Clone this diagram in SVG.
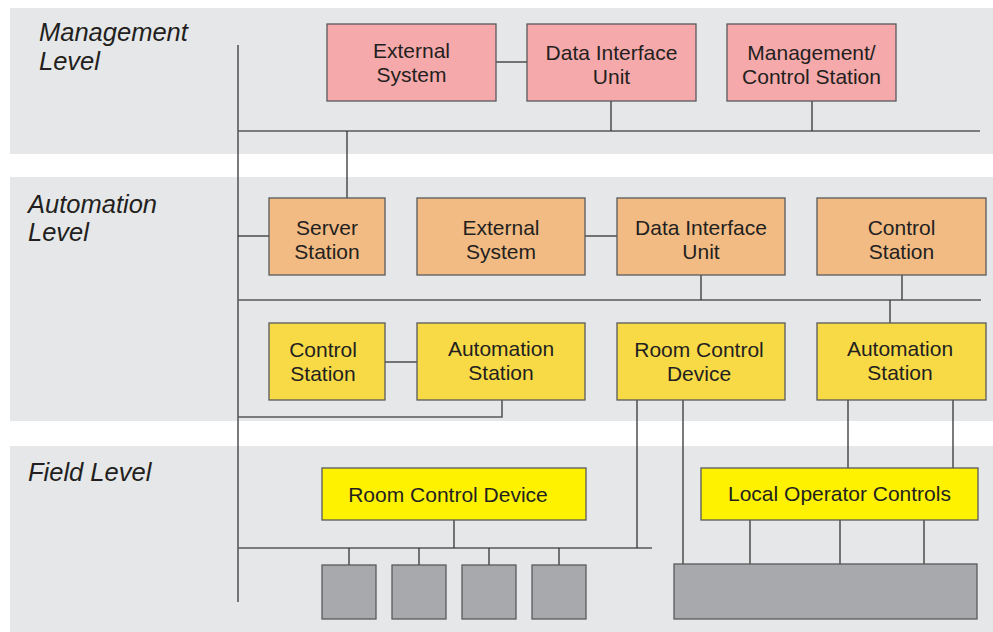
<svg xmlns="http://www.w3.org/2000/svg" width="993" height="632" viewBox="0 0 993 632">
<style>
.band{fill:#e6e7e8}
.lvl{font-family:"Liberation Sans",Arial,sans-serif;font-style:italic;font-size:25.5px;fill:#231f20}
.t{font-family:"Liberation Sans",Arial,sans-serif;font-size:21px;fill:#231f20;text-anchor:middle}
.box{stroke:#58595b;stroke-width:1.3}
.pink{fill:#f6a9ab}
.orange{fill:#f2bb84}
.yel{fill:#f8da47}
.fy{fill:#fff200}
.gray{fill:#a7a9ac}
.ln{stroke:#333;stroke-width:1.3;fill:none}
.bus{stroke:#58595b;stroke-width:1.6;fill:none}
</style>
<rect width="993" height="632" fill="#fff"/>
<rect class="band" x="10" y="8" width="983" height="146"/>
<rect class="band" x="10" y="177" width="983" height="244"/>
<rect class="band" x="10" y="446" width="983" height="186"/>
<text class="lvl" x="39" y="41">Management</text>
<text class="lvl" x="39" y="70">Level</text>
<text class="lvl" x="28" y="213">Automation</text>
<text class="lvl" x="28" y="241">Level</text>
<text class="lvl" x="28" y="481">Field Level</text>
<g id="connectors">
<path class="bus" d="M238 45V602"/>
<path class="bus" d="M238 131H980"/>
<path class="bus" d="M238 300H981"/>
<path class="bus" d="M238 417H502V400"/>
<path class="bus" d="M238 548H652"/>
<path class="ln" d="M496 62H527"/>
<path class="ln" d="M611 101V131"/>
<path class="ln" d="M812 101V131"/>
<path class="ln" d="M347 131V198"/>
<path class="ln" d="M238 236H269"/>
<path class="ln" d="M585 236H617"/>
<path class="ln" d="M701 275V300"/>
<path class="ln" d="M902 275V300"/>
<path class="ln" d="M890 300V323"/>
<path class="ln" d="M385 362H417"/>
<path class="ln" d="M637 400V548"/>
<path class="ln" d="M683 400V564"/>
<path class="ln" d="M848 400V468"/>
<path class="ln" d="M953 400V468"/>
<path class="ln" d="M454 520V548"/>
<path class="ln" d="M349 548V565"/>
<path class="ln" d="M419 548V565"/>
<path class="ln" d="M489 548V565"/>
<path class="ln" d="M559 548V565"/>
<path class="ln" d="M750 520V564"/>
<path class="ln" d="M840 520V564"/>
<path class="ln" d="M924 520V564"/>
</g>
<g id="mgmt-external"><rect class="box pink" x="327" y="24" width="169" height="77"/><text class="t" x="411.5" y="58">External</text><text class="t" x="411.5" y="82">System</text></g>
<g id="mgmt-diu"><rect class="box pink" x="527" y="24" width="169" height="77"/><text class="t" x="611.5" y="60">Data Interface</text><text class="t" x="611.5" y="84">Unit</text></g>
<g id="mgmt-station"><rect class="box pink" x="727" y="24" width="169" height="77"/><text class="t" x="811.5" y="60">Management/</text><text class="t" x="811.5" y="84">Control Station</text></g>
<g id="auto-server"><rect class="box orange" x="269" y="198" width="116" height="77"/><text class="t" x="327" y="235">Server</text><text class="t" x="327" y="259">Station</text></g>
<g id="auto-external"><rect class="box orange" x="417" y="198" width="168" height="77"/><text class="t" x="501" y="234.5">External</text><text class="t" x="501" y="258.5">System</text></g>
<g id="auto-diu"><rect class="box orange" x="617" y="198" width="168" height="77"/><text class="t" x="701" y="234.5">Data Interface</text><text class="t" x="701" y="258.5">Unit</text></g>
<g id="auto-control"><rect class="box orange" x="817" y="198" width="169" height="77"/><text class="t" x="901.5" y="234.5">Control</text><text class="t" x="901.5" y="258.5">Station</text></g>
<g id="ctrl-station"><rect class="box yel" x="269" y="323" width="116" height="77"/><text class="t" x="323" y="357">Control</text><text class="t" x="323" y="381">Station</text></g>
<g id="auto-station1"><rect class="box yel" x="417" y="323" width="168" height="77"/><text class="t" x="501" y="356">Automation</text><text class="t" x="501" y="380">Station</text></g>
<g id="room-ctrl1"><rect class="box yel" x="617" y="323" width="168" height="77"/><text class="t" x="699" y="356.5">Room Control</text><text class="t" x="699" y="380.5">Device</text></g>
<g id="auto-station2"><rect class="box yel" x="817" y="323" width="169" height="77"/><text class="t" x="900" y="356">Automation</text><text class="t" x="900" y="380">Station</text></g>
<g id="room-ctrl2"><rect class="box fy" x="322" y="468" width="264" height="52"/><text class="t" x="448" y="501.5">Room Control Device</text></g>
<g id="local-op"><rect class="box fy" x="701" y="468" width="277" height="52"/><text class="t" x="839.5" y="500.5">Local Operator Controls</text></g>
<g id="dev1"><rect class="box gray" x="322" y="565" width="54" height="54"/></g>
<g id="dev2"><rect class="box gray" x="392" y="565" width="54" height="54"/></g>
<g id="dev3"><rect class="box gray" x="462" y="565" width="54" height="54"/></g>
<g id="dev4"><rect class="box gray" x="532" y="565" width="54" height="54"/></g>
<g id="field-panel"><rect class="box gray" x="674" y="564" width="303" height="55"/></g>
</svg>
